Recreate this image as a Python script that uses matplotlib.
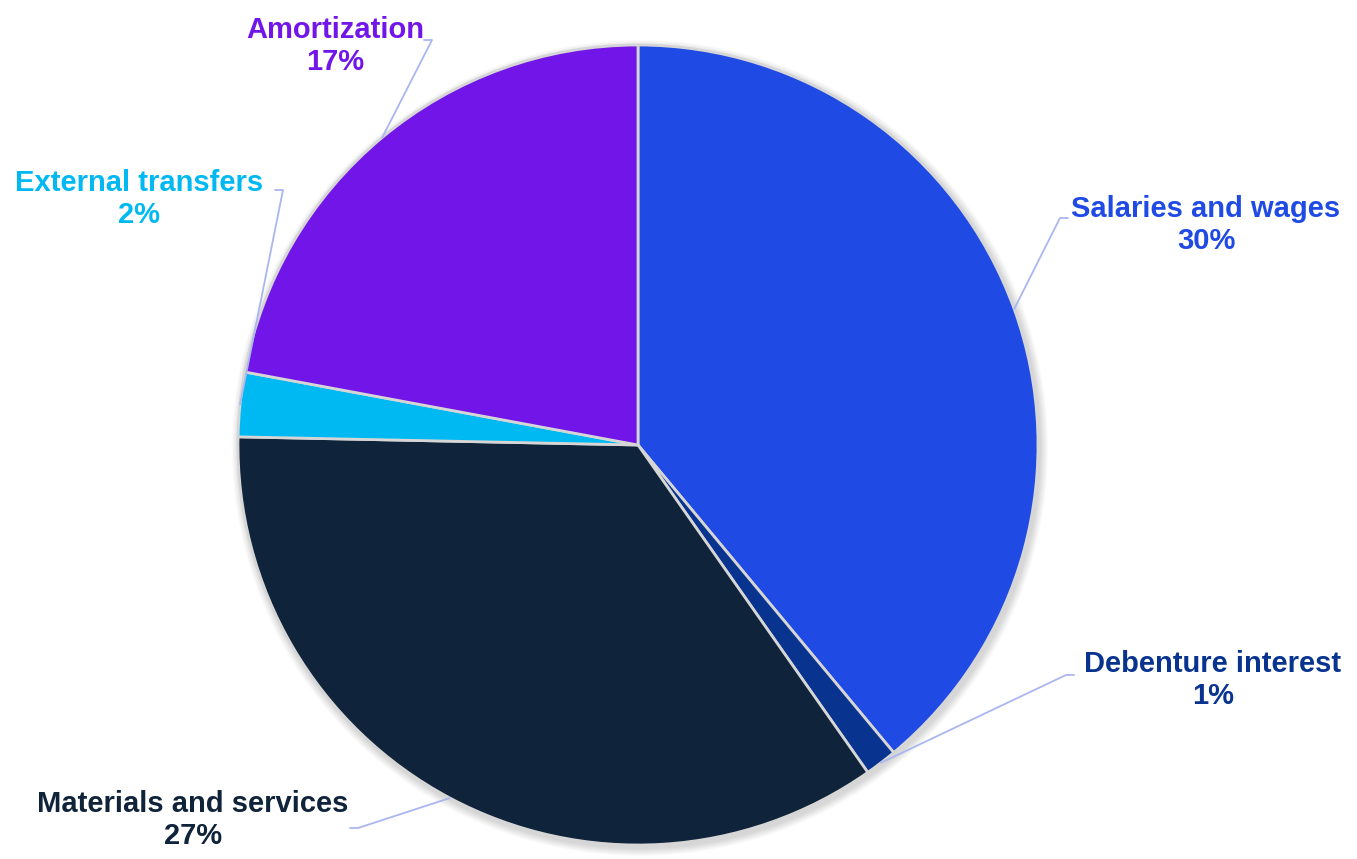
import matplotlib.pyplot as plt
import numpy as np
from matplotlib.patches import Circle

categories = ['Salaries and wages', 'Debenture interest', 'Materials and services',
              'External transfers', 'Amortization']
shares = [30, 1, 27, 2, 17]
colors = ['#1f4ae3', '#08348f', '#0f233a', '#00b9f2', '#7115e8']

# label block centres and leader elbow points, in pixel coordinates
W, H = 1357, 859
label_xy = [(1206, 225), (1213, 680), (193, 820), (139, 199), (335, 46)]
elbow_xy = [(1060, 218), (1066, 675), (358, 828), (283, 190), (432, 40)]
hook = [8, 8, -8, -8, -8]

plt.rcParams['font.family'] = ['Liberation Sans', 'DejaVu Sans']

fig = plt.figure(figsize=(W / 100, H / 100), dpi=100)
ax = fig.add_axes([0, 0, 1, 1])

cx, cy, r = 638, H - 445, 400

# soft shadow behind the pie
for k in range(8):
    ax.add_patch(Circle((cx + 2, cy - 3), r + 8 - k, color='#000000',
                        alpha=0.018, lw=0, zorder=0))

wedges, _ = ax.pie(shares, colors=colors, startangle=90, counterclock=False,
                   center=(cx, cy), radius=r, frame=True,
                   wedgeprops=dict(edgecolor='#d6d6d6', linewidth=2.0))
ax.set_xlim(0, W)
ax.set_ylim(0, H)
ax.set_aspect('equal')
ax.axis('off')

for w, name, val, col, (lx, ly), (ex, ey), hk in zip(
        wedges, categories, shares, colors, label_xy, elbow_xy, hook):
    mid = np.deg2rad((w.theta1 + w.theta2) / 2)
    px, py = cx + r * np.cos(mid), cy + r * np.sin(mid)
    ax.plot([px, ex, ex + hk], [py, H - ey, H - ey], color='#aab6f0',
            lw=1.3, solid_capstyle='round', zorder=1)
    ax.text(lx, H - ly, f'{name}\n{val}%', ha='center', va='center',
            color=col, fontsize=21, fontweight='bold', linespacing=1.18)

fig.savefig('out.png', dpi=100, facecolor='white')
